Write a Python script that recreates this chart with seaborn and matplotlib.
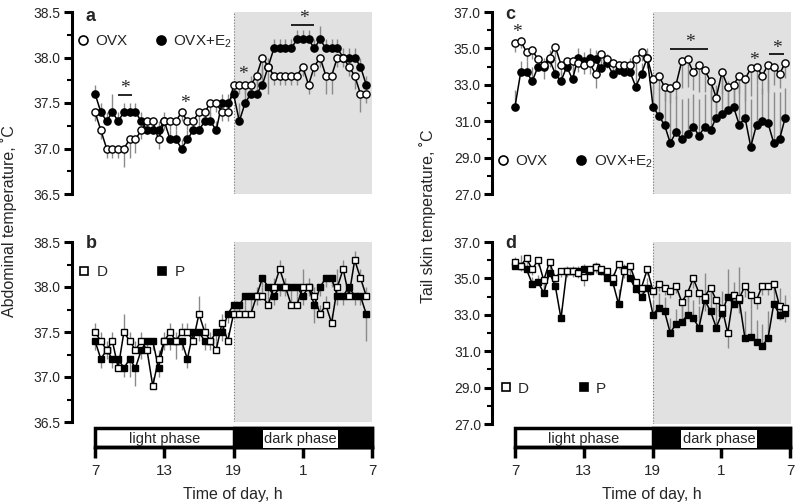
import numpy as np
import pandas as pd
import matplotlib.pyplot as plt
import seaborn as sns
from matplotlib.patches import Rectangle
from matplotlib.lines import Line2D
from matplotlib.ticker import FixedLocator, FormatStrFormatter

sns.set_style("ticks")
plt.rcParams['font.family'] = ['Liberation Sans', 'DejaVu Sans']
plt.rcParams['mathtext.fontset'] = 'custom'
plt.rcParams['mathtext.rm'] = 'Liberation Sans'

# time of day, 30-min bins starting 7:00 (hours past midnight, 25 = 1:00 next day)
hours = 7 + 0.5 * np.arange(48)
tick_pos = [7, 13, 19, 25, 31]
tick_lab = ['7', '13', '19', '1', '7']

abd_ticks = [36.5, 37.0, 37.5, 38.0, 38.5]
abd_minor = [36.75, 37.25, 37.75, 38.25]
tail_ticks = [27.0, 29.0, 31.0, 33.0, 35.0, 37.0]
tail_minor = [28.0, 30.0, 32.0, 34.0, 36.0]

# a: abdominal temperature, OVX vs OVX+E2
abd_ovx = [37.4, 37.2, 37.0, 37.0, 37.0, 37.0, 37.1, 37.1, 37.2, 37.3, 37.3, 37.1,
           37.3, 37.3, 37.3, 37.4, 37.3, 37.3, 37.4, 37.4, 37.5, 37.5, 37.4, 37.4,
           37.7, 37.7, 37.7, 37.7, 37.8, 38.0, 37.9, 37.8, 37.8, 37.8, 37.8, 37.8,
           37.9, 37.7, 37.9, 38.0, 37.8, 37.8, 38.0, 38.0, 37.9, 37.8, 37.6, 37.6]
abd_ovx_err = [0.1, 0.1, 0.1, 0.1, 0.1, 0.2, 0.2, 0.15, 0.1, 0.1, 0.1, 0.1,
               0.1, 0.1, 0.1, 0.1, 0.1, 0.1, 0.1, 0.1, 0.15, 0.1, 0.1, 0.1,
               0.1, 0.1, 0.1, 0.1, 0.1, 0.2, 0.3, 0.1, 0.1, 0.1, 0.1, 0.1,
               0.1, 0.1, 0.1, 0.1, 0.2, 0.2, 0.1, 0.1, 0.1, 0.15, 0.2, 0.1]
abd_e2 = [37.6, 37.4, 37.3, 37.4, 37.3, 37.4, 37.4, 37.4, 37.3, 37.2, 37.2, 37.2,
          37.3, 37.1, 37.1, 37.0, 37.1, 37.2, 37.2, 37.3, 37.3, 37.2, 37.5, 37.5,
          37.6, 37.3, 37.5, 37.6, 37.6, 37.7, 37.9, 38.1, 38.1, 38.1, 38.1, 38.2,
          38.2, 38.2, 38.1, 38.2, 38.1, 38.1, 38.1, 38.0, 38.0, 38.0, 37.9, 37.7]
abd_e2_err = [0.1, 0.1, 0.1, 0.2, 0.1, 0.1, 0.1, 0.1, 0.1, 0.1, 0.1, 0.1,
              0.1, 0.1, 0.1, 0.1, 0.1, 0.1, 0.1, 0.1, 0.1, 0.1, 0.1, 0.1,
              0.1, 0.2, 0.2, 0.2, 0.2, 0.2, 0.1, 0.1, 0.1, 0.1, 0.1, 0.1,
              0.1, 0.1, 0.1, 0.15, 0.1, 0.1, 0.1, 0.1, 0.1, 0.1, 0.1, 0.1]

# b: abdominal temperature, diestrus (D) vs proestrus (P)
abd_d = [37.5, 37.4, 37.3, 37.4, 37.1, 37.5, 37.4, 37.3, 37.4, 37.3, 36.9, 37.2,
         37.4, 37.5, 37.4, 37.5, 37.5, 37.4, 37.7, 37.5, 37.4, 37.3, 37.6, 37.4,
         37.7, 37.7, 37.7, 37.7, 37.9, 37.9, 37.8, 38.0, 38.2, 38.0, 37.8, 37.8,
         38.0, 38.0, 37.9, 37.7, 37.8, 37.6, 38.0, 38.2, 37.9, 38.3, 38.1, 37.9]
abd_d_err = [0.1, 0.1, 0.1, 0.1, 0.1, 0.2, 0.1, 0.1, 0.1, 0.1, 0.1, 0.1,
             0.1, 0.1, 0.1, 0.1, 0.1, 0.1, 0.2, 0.1, 0.1, 0.1, 0.1, 0.1,
             0.1, 0.1, 0.1, 0.1, 0.1, 0.1, 0.1, 0.1, 0.1, 0.1, 0.1, 0.1,
             0.2, 0.1, 0.1, 0.1, 0.1, 0.1, 0.2, 0.1, 0.1, 0.1, 0.1, 0.1]
abd_p = [37.4, 37.2, 37.3, 37.2, 37.2, 37.1, 37.2, 37.1, 37.3, 37.4, 37.4, 37.1,
         37.4, 37.4, 37.4, 37.4, 37.2, 37.5, 37.5, 37.4, 37.4, 37.5, 37.5, 37.7,
         37.8, 37.8, 37.9, 37.9, 37.9, 38.1, 38.0, 37.9, 38.0, 38.0, 38.0, 38.0,
         37.9, 38.0, 37.8, 38.0, 38.1, 38.1, 37.9, 37.9, 38.0, 37.9, 37.9, 37.7]
abd_p_err = [0.1, 0.1, 0.1, 0.1, 0.1, 0.1, 0.2, 0.2, 0.1, 0.1, 0.1, 0.1,
             0.1, 0.1, 0.2, 0.1, 0.1, 0.1, 0.1, 0.1, 0.1, 0.1, 0.1, 0.1,
             0.1, 0.1, 0.1, 0.1, 0.1, 0.1, 0.1, 0.1, 0.1, 0.1, 0.1, 0.1,
             0.1, 0.1, 0.2, 0.1, 0.1, 0.1, 0.1, 0.1, 0.1, 0.1, 0.1, 0.3]

# c: tail skin temperature, OVX vs OVX+E2
tail_ovx = [35.3, 35.4, 34.8, 34.9, 34.4, 34.1, 34.5, 35.1, 34.1, 34.3, 34.3, 34.2,
            34.1, 34.2, 33.6, 34.7, 34.4, 34.2, 34.1, 34.1, 34.1, 34.4, 34.8, 34.5,
            33.3, 33.5, 32.9, 32.8, 33.0, 34.3, 34.4, 33.7, 34.1, 33.8, 33.2, 32.3,
            33.7, 32.9, 33.0, 33.5, 33.3, 33.9, 34.0, 33.5, 34.1, 34.0, 33.6, 34.2]
tail_ovx_err = [0.5, 0.4, 0.5, 0.5, 0.6, 0.8, 0.5, 0.7, 0.5, 0.5, 0.6, 0.5,
                0.5, 0.6, 0.8, 0.5, 0.5, 0.5, 0.5, 0.5, 0.6, 0.6, 0.5, 0.6,
                0.8, 0.8, 0.8, 0.8, 0.8, 1.5, 1.5, 1.0, 1.5, 1.2, 1.0, 0.8,
                1.2, 1.0, 1.0, 1.0, 1.2, 1.5, 1.0, 1.0, 1.5, 1.0, 0.8, 0.8]
tail_e2 = [31.8, 33.7, 33.7, 33.2, 34.0, 34.0, 34.4, 33.6, 33.2, 34.0, 33.3, 34.5,
           34.3, 34.5, 34.4, 33.9, 34.2, 33.6, 33.8, 33.7, 33.7, 32.9, 33.6, 34.5,
           31.8, 31.3, 30.8, 29.8, 30.4, 30.0, 30.3, 30.7, 30.2, 30.7, 30.5, 31.2,
           31.4, 31.6, 31.8, 30.8, 31.2, 29.6, 30.8, 31.0, 30.9, 29.8, 30.0, 31.2]
tail_e2_err = [0.9, 0.6, 0.6, 0.8, 0.5, 0.5, 0.5, 0.8, 0.5, 0.5, 0.8, 0.5,
               0.5, 0.5, 0.5, 0.6, 0.5, 0.8, 0.5, 0.5, 0.8, 1.0, 0.6, 0.5,
               1.2, 1.5, 1.8, 2.8, 2.0, 2.2, 2.0, 1.8, 2.0, 1.8, 2.2, 1.8,
               2.0, 1.6, 1.4, 2.2, 2.0, 2.6, 2.2, 1.8, 2.4, 2.8, 2.6, 1.6]

# d: tail skin temperature, D vs P
tail_d = [35.9, 35.7, 36.1, 35.5, 36.0, 34.9, 35.9, 35.0, 35.4, 35.4, 35.4, 35.3,
          35.1, 35.5, 35.6, 35.5, 35.4, 35.0, 35.8, 35.4, 35.7, 34.8, 34.5, 35.5,
          34.3, 34.7, 34.5, 34.3, 34.6, 33.7, 34.2, 35.0, 34.2, 34.0, 34.5, 33.8,
          33.4, 32.0, 34.1, 33.9, 34.6, 34.1, 33.8, 34.6, 34.6, 34.7, 33.5, 33.4]
tail_d_err = [0.3, 0.3, 0.3, 0.3, 0.3, 0.5, 0.3, 0.4, 0.3, 0.3, 0.3, 0.3,
              0.5, 0.3, 0.3, 0.3, 0.3, 0.4, 0.3, 0.4, 0.4, 0.5, 0.4, 0.3,
              0.4, 0.4, 0.4, 0.4, 0.4, 0.8, 0.5, 0.5, 0.6, 0.8, 0.5, 0.6,
              0.6, 0.8, 0.5, 0.8, 0.6, 0.8, 0.5, 0.5, 0.5, 0.5, 0.8, 0.8]
tail_p = [35.7, 35.7, 35.5, 34.7, 34.8, 34.2, 35.3, 34.6, 32.8, 35.4, 35.4, 35.4,
          35.5, 35.4, 35.6, 35.4, 35.0, 34.8, 33.6, 35.5, 35.0, 34.4, 34.0, 34.5,
          33.0, 33.4, 33.2, 32.0, 32.5, 32.6, 33.0, 32.8, 32.3, 33.8, 33.2, 32.3,
          33.1, 34.0, 33.6, 33.8, 31.7, 31.8, 31.5, 31.3, 31.7, 33.6, 33.0, 33.1]
tail_p_err = [0.5, 0.6, 0.3, 0.4, 0.4, 0.5, 0.5, 0.4, 0.6, 0.3, 0.3, 0.3,
              0.3, 0.3, 0.3, 0.3, 0.5, 0.5, 0.8, 0.3, 0.5, 0.5, 0.5, 0.5,
              0.8, 0.8, 0.8, 0.8, 0.8, 1.0, 1.0, 1.0, 1.2, 1.5, 1.0, 1.2,
              1.2, 1.5, 1.2, 1.8, 1.5, 1.5, 1.2, 1.2, 1.5, 1.0, 1.5, 1.0]

# significance marks (x in hours, y in deg C)
abd_star_x = [9.6, 14.8, 19.85, 25.1]
abd_star_y = [37.66, 37.50, 37.81, 38.43]
abd_bar_x = [(9.0, 10.2), (24.0, 26.0)]
abd_bar_y = [37.59, 38.36]
tail_star_x = [7.2, 22.2, 27.8, 29.8]
tail_star_y = [35.9, 35.3, 34.36, 35.0]
tail_bar_x = [(20.5, 23.8), (29.05, 30.4)]
tail_bar_y = [34.95, 34.67]

W, H = 795, 504
fig = plt.figure(figsize=(W / 100, H / 100), dpi=100)


def px_axes(x0, y0, x1, y1):
    return fig.add_axes([x0 / W, 1 - y1 / H, (x1 - x0) / W, (y1 - y0) / H])


def draw_series(ax, vals, err, up, filled, marker):
    vals = np.array(vals)
    err = np.array(err)
    if up:
        ax.vlines(hours, vals, vals + err, color='#8a8a8a', lw=1.0, zorder=2)
    else:
        ax.vlines(hours, vals - err, vals, color='#8a8a8a', lw=1.0, zorder=2)
    df = pd.DataFrame({'hour': hours, 'temp': vals})
    sns.lineplot(data=df, x='hour', y='temp', ax=ax, color='black', lw=1.1,
                 marker=marker, markersize=5.2 if marker == 'o' else 5.0,
                 markerfacecolor='black' if filled else 'white',
                 markeredgecolor='black', markeredgewidth=1.0,
                 errorbar=None, zorder=4 if filled else 5)
    ax.set_xlabel('')
    ax.set_ylabel('')


def style_axis(ax, ylim, major, minor):
    ax.set_xlim(5, 31)
    ax.set_ylim(*ylim)
    ax.axvspan(19, 31, color='#e1e1e1', zorder=0, lw=0)
    ax.axvline(19, color='#777777', ls=':', lw=0.8, zorder=1)
    for s in ['top', 'right', 'bottom']:
        ax.spines[s].set_visible(False)
    ax.spines['left'].set_linewidth(2.2)
    ax.spines['left'].set_color('black')
    ax.set_xticks([])
    ax.yaxis.set_major_locator(FixedLocator(major))
    ax.yaxis.set_minor_locator(FixedLocator(minor))
    ax.yaxis.set_major_formatter(FormatStrFormatter('%.1f'))
    ax.tick_params(axis='y', which='major', length=6, width=2.2, color='black',
                   labelsize=10, pad=2)
    ax.tick_params(axis='y', which='minor', length=3.5, width=1.5, color='black')
    ax.set_facecolor('white')


def add_legend(ax, labels, marker, anchor, colsp):
    handles = [Line2D([], [], ls='', marker=marker, ms=6.5 if marker == 'o' else 6,
                      mfc='white', mec='black', mew=1.2),
               Line2D([], [], ls='', marker=marker, ms=6.5 if marker == 'o' else 6,
                      mfc='black', mec='black', mew=1.2)]
    ax.legend(handles, labels, ncol=2, loc='upper left', bbox_to_anchor=anchor,
              frameon=False, handlelength=0.8, handletextpad=0.4,
              columnspacing=colsp, fontsize=11, borderpad=0, borderaxespad=0)


def add_stars(ax, sx, sy, bx, by):
    for x, y in zip(sx, sy):
        ax.text(x, y, '*', ha='center', va='center', fontsize=14,
                family='Liberation Serif', zorder=6)
    for (x0, x1), y in zip(bx, by):
        ax.hlines(y, x0, x1, color='black', lw=1.2, zorder=6)


def add_phase_bar(x0, x1):
    bar = px_axes(x0, 428, x1, 447)
    bar.set_xlim(7, 31)
    bar.set_ylim(0, 1)
    bar.add_patch(Rectangle((7, 0), 24, 1, facecolor='white', edgecolor='black',
                            lw=2.5, clip_on=False))
    bar.add_patch(Rectangle((19, 0), 12, 1, facecolor='black', edgecolor='black',
                            lw=2.5, clip_on=False))
    bar.text(13, 0.42, 'light phase', ha='center', va='center', fontsize=10.5)
    bar.text(24.8, 0.42, 'dark phase', ha='center', va='center', fontsize=10.5,
             bbox=dict(facecolor='white', edgecolor='none', pad=1.2))
    for s in ['top', 'right', 'left']:
        bar.spines[s].set_visible(False)
    bar.spines['bottom'].set_linewidth(2.5)
    bar.spines['bottom'].set_color('black')
    bar.set_yticks([])
    bar.set_xticks(tick_pos)
    bar.set_xticklabels(tick_lab)
    bar.tick_params(axis='x', length=8, width=2.5, color='black', labelsize=11, pad=4)
    bar.set_facecolor('none')
    return bar


# panel a
ax_a = px_axes(72, 12, 372, 194)
style_axis(ax_a, (36.5, 38.5), abd_ticks, abd_minor)
draw_series(ax_a, abd_ovx, abd_ovx_err, False, False, 'o')
draw_series(ax_a, abd_e2, abd_e2_err, True, True, 'o')
add_stars(ax_a, abd_star_x, abd_star_y, abd_bar_x, abd_bar_y)
add_legend(ax_a, ['OVX', 'OVX+E$_2$'], 'o', (0.015, 0.885), 1.8)
ax_a.text(0.045, 0.975, 'a', transform=ax_a.transAxes, fontsize=13,
          fontweight='bold', va='center')

# panel b
ax_b = px_axes(72, 242, 372, 422)
style_axis(ax_b, (36.5, 38.5), abd_ticks, abd_minor)
draw_series(ax_b, abd_d, abd_d_err, True, False, 's')
draw_series(ax_b, abd_p, abd_p_err, False, True, 's')
add_legend(ax_b, ['D', 'P'], 's', (0.02, 0.87), 3.2)
ax_b.text(0.045, 0.99, 'b', transform=ax_b.transAxes, fontsize=13,
          fontweight='bold', va='center')

# panel c
ax_c = px_axes(492, 12, 791, 194)
style_axis(ax_c, (27.0, 37.0), tail_ticks, tail_minor)
draw_series(ax_c, tail_ovx, tail_ovx_err, False, False, 'o')
draw_series(ax_c, tail_e2, tail_e2_err, True, True, 'o')
add_stars(ax_c, tail_star_x, tail_star_y, tail_bar_x, tail_bar_y)
add_legend(ax_c, ['OVX', 'OVX+E$_2$'], 'o', (0.018, 0.225), 1.8)
ax_c.text(0.045, 0.985, 'c', transform=ax_c.transAxes, fontsize=13,
          fontweight='bold', va='center')

# panel d
ax_d = px_axes(492, 242, 791, 424)
style_axis(ax_d, (27.0, 37.0), tail_ticks, tail_minor)
draw_series(ax_d, tail_d, tail_d_err, False, False, 's')
draw_series(ax_d, tail_p, tail_p_err, True, True, 's')
add_legend(ax_d, ['D', 'P'], 's', (0.025, 0.232), 3.2)
ax_d.text(0.045, 0.99, 'd', transform=ax_d.transAxes, fontsize=13,
          fontweight='bold', va='center')

add_phase_bar(95, 372)
add_phase_bar(515, 790)

fig.text(9 / W, 1 - 221 / H, 'Abdominal temperature, ˚C', rotation=90,
         ha='center', va='center', fontsize=11.5)
fig.text(428 / W, 1 - 216 / H, 'Tail skin temperature, ˚C', rotation=90,
         ha='center', va='center', fontsize=11.5)
fig.text(233 / W, 1 - 494 / H, 'Time of day, h', ha='center', va='center', fontsize=11.5)
fig.text(652 / W, 1 - 494 / H, 'Time of day, h', ha='center', va='center', fontsize=11.5)

fig.savefig('out.png', dpi=100)
